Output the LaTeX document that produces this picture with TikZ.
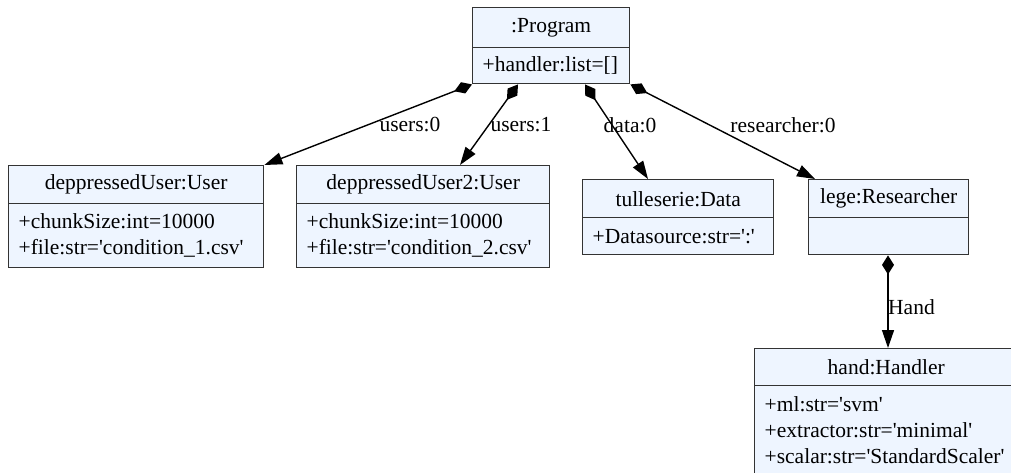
\documentclass[tikz,border=0pt]{standalone}
\usepackage{fontspec}
\setmainfont{Liberation Serif}
\usetikzlibrary{arrows.meta}
\definecolor{boxfill}{HTML}{EEF5FF}
\definecolor{boxline}{HTML}{333333}
\newcommand\sq{\textquotesingle}

\begin{document}
\begin{tikzpicture}[x=1pt,y=-1pt,
  every node/.style={font=\fontsize{21.5}{25.8}\selectfont},
  classtitle/.style={draw=boxline, fill=boxfill, line width=1.4pt, anchor=north west, inner sep=0pt},
  classattrs/.style={draw=boxline, fill=boxfill, line width=1.4pt, anchor=north west,
    inner xsep=10pt, inner ysep=0pt, align=left},
  comp/.style={line width=1.4pt,
    {Diamond[length=19pt,width=12pt]}-{Triangle[length=18pt,width=12pt]}},
  lbl/.style={inner sep=0pt}
]
\useasboundingbox (0,0) rectangle (1011,473);
\clip (0,0) rectangle (1011,473);

% Program object
\node[classtitle, minimum width=157pt, minimum height=40pt] (prog-t) at (472,7) {:Program};
\node[classattrs, text width=137pt, minimum height=36pt] (prog-a) at (472,47) {+handler:list=[]};

% first user
\node[classtitle, minimum width=255pt, minimum height=38pt] (u1-t) at (8,165) {deppressedUser:User};
\node[classattrs, text width=235pt, minimum height=64pt] (u1-a) at (8,203)
  {+chunkSize:int=10000\\+file:str=\sq condition\_1.csv\sq};

% second user
\node[classtitle, minimum width=253pt, minimum height=38pt] (u2-t) at (296,165) {deppressedUser2:User};
\node[classattrs, text width=233pt, minimum height=64pt] (u2-a) at (296,203)
  {+chunkSize:int=10000\\+file:str=\sq condition\_2.csv\sq};

% data source
\node[classtitle, minimum width=191pt, minimum height=38pt] (dat-t) at (582,179) {tulleserie:Data};
\node[classattrs, text width=171pt, minimum height=37pt] (dat-a) at (582,217) {+Datasource:str=\sq:\sq};

% researcher
\node[classtitle, minimum width=160pt, minimum height=38pt] (lege-t) at (808,179) {lege:Researcher};
\node[classattrs, text width=140pt, minimum height=37pt] (lege-a) at (808,217) {};

% handler
\node[classtitle, minimum width=263pt, minimum height=37pt] (hand-t) at (754,348) {hand:Handler};
\node[classattrs, text width=243pt, minimum height=89pt] (hand-a) at (754,385)
  {+ml:str=\sq svm\sq\\+extractor:str=\sq minimal\sq\\+scalar:str=\sq StandardScaler\sq};

% composition links
\draw[comp] (prog-a.south west) -- (u1-t.north east);
\draw[comp] ([xshift=46pt]prog-a.south west) -- ([xshift=164pt]u2-t.north west);
\draw[comp] ([xshift=113pt]prog-a.south west) -- ([xshift=66pt]dat-t.north west);
\draw[comp] (prog-a.south east) -- ([xshift=7pt]lege-t.north west);
\draw[comp] ([xshift=80pt]lege-a.south west) -- ([xshift=80pt]lege-a.south west |- hand-t.north);

% link labels
\node[lbl] (l-u0) at (410,125) {users:0};
\node[lbl] (l-u1) at (521,125) {users:1};
\node[lbl] (l-d0) at (630,125) {data:0};
\node[lbl] (l-r0) at (783,125) {researcher:0};
\node[lbl, anchor=west] (l-h) at (888,307) {Hand};
\end{tikzpicture}
\end{document}
